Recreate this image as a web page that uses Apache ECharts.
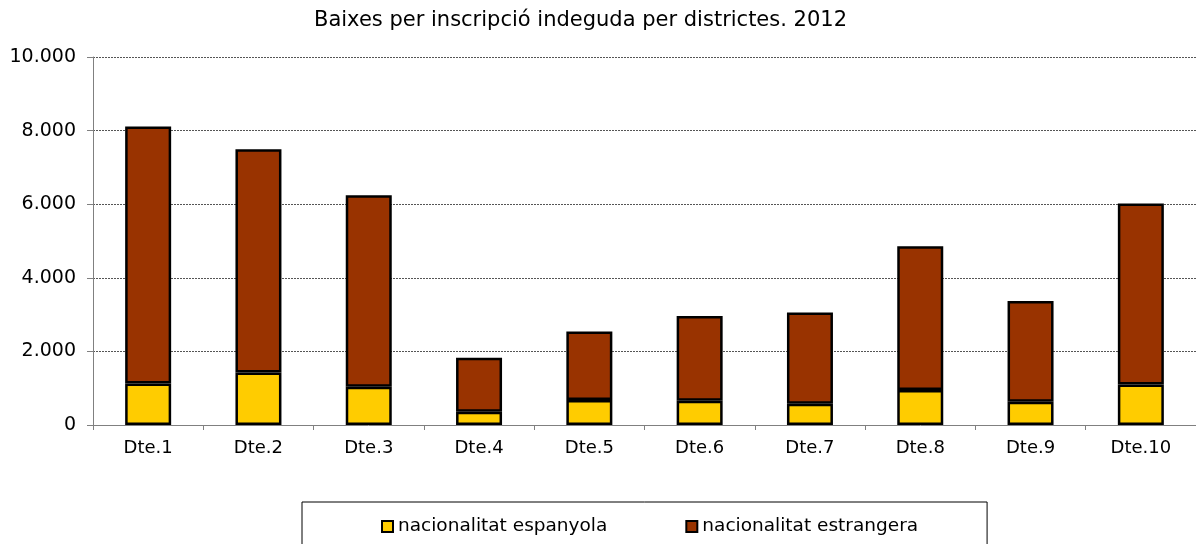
<!DOCTYPE html>
<html>
<head>
<meta charset="utf-8">
<script src="https://cdn.jsdelivr.net/npm/echarts@6/dist/echarts.min.js"></script>
<style>
  html, body { margin: 0; padding: 0; background: #fff; }
  #chart { width: 1196px; height: 544px; }
</style>
</head>
<body>
<div id="chart"></div>
<script>
// dades llegides del gràfic
const districtes = ['Dte.1', 'Dte.2', 'Dte.3', 'Dte.4', 'Dte.5', 'Dte.6', 'Dte.7', 'Dte.8', 'Dte.9', 'Dte.10']
const espanyola = [1130, 1430, 1040, 360, 680, 660, 580, 950, 630, 1100]
const estrangera = [6980, 6060, 5200, 1470, 1860, 2300, 2480, 3910, 2740, 4920]
const titol = 'Baixes per inscripció indeguda per districtes. 2012'

const font = 'DejaVu Sans'

const chart = echarts.init(document.getElementById('chart'))

// separador de milers amb punt
function fmt(v) {
  return String(v).replace(/\B(?=(\d{3})+(?!\d))/g, '.')
}

chart.setOption({
  animation: false,
  backgroundColor: '#fff',
  title: {
    text: titol,
    left: 314,
    top: 10,
    padding: 0,
    textStyle: { fontFamily: font, fontSize: 21, fontWeight: 'normal', color: '#000' }
  },
  grid: {
    left: 93,
    right: 0,
    top: 57,
    bottom: 119
  },
  legend: {
    left: 302,
    top: 502,
    padding: [15, 69, 30, 79],
    itemGap: 78,
    itemWidth: 11,
    itemHeight: 11,
    icon: 'rect',
    borderColor: '#000',
    borderWidth: 1,
    textStyle: { fontFamily: font, fontSize: 18.5, color: '#000' }
  },
  xAxis: {
    type: 'category',
    data: districtes,
    axisLine: { lineStyle: { color: '#808080', width: 1 } },
    axisTick: { show: true, length: 5, lineStyle: { color: '#808080' } },
    axisLabel: { color: '#000', fontFamily: font, fontSize: 18, margin: 14 }
  },
  yAxis: {
    type: 'value',
    min: 0,
    max: 10000,
    interval: 2000,
    axisLine: { show: true, lineStyle: { color: '#808080', width: 1 } },
    axisTick: { show: true, length: 6, lineStyle: { color: '#808080' } },
    axisLabel: {
      color: '#000', fontFamily: font, fontSize: 19, margin: 17,
      formatter: fmt
    },
    splitLine: { show: true, lineStyle: { color: '#555', type: [2, 1], width: 1 } }
  },
  series: [
    {
      name: 'nacionalitat espanyola',
      type: 'bar',
      stack: 'total',
      barWidth: 46,
      itemStyle: { color: '#FFCC00', borderColor: '#000', borderWidth: 2.5 },
      data: espanyola
    },
    {
      name: 'nacionalitat estrangera',
      type: 'bar',
      stack: 'total',
      barWidth: 46,
      itemStyle: { color: '#993300', borderColor: '#000', borderWidth: 2.5 },
      data: estrangera
    }
  ]
})
</script>
</body>
</html>
